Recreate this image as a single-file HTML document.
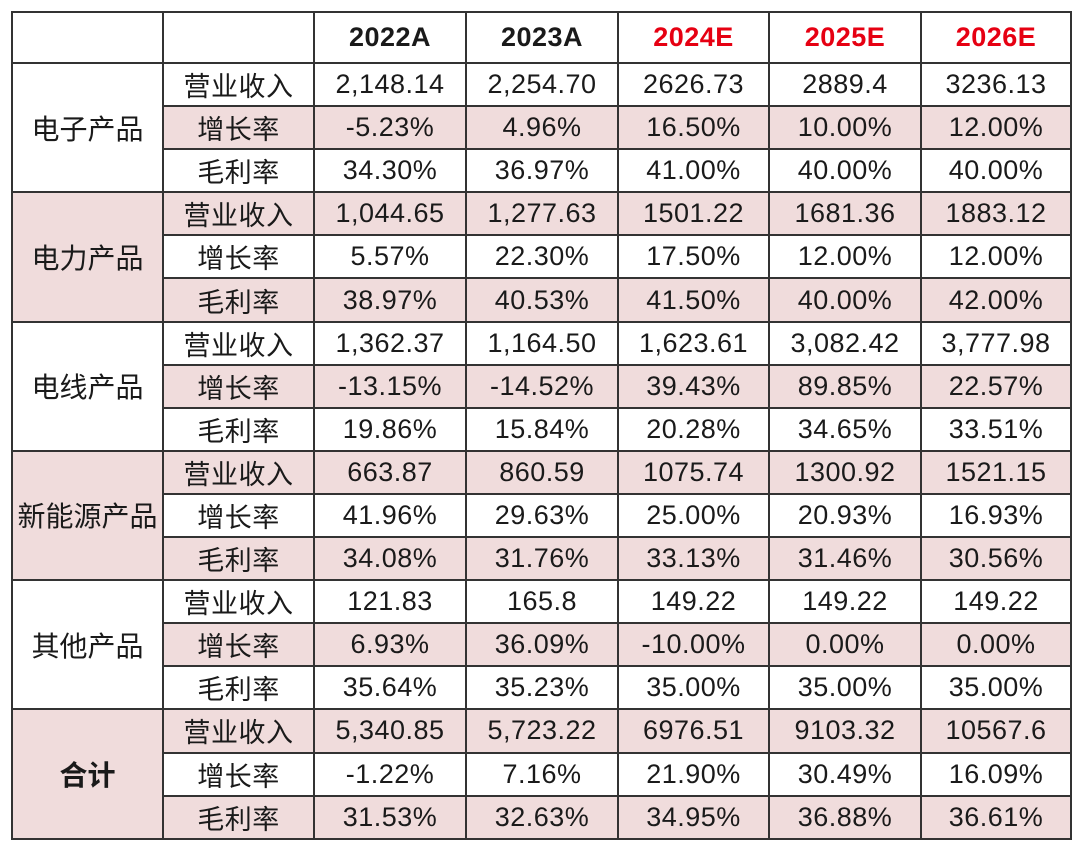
<!DOCTYPE html>
<html><head><meta charset="utf-8">
<style>
html,body{margin:0;padding:0;background:#fff;width:1080px;height:851px;overflow:hidden;}
table{position:absolute;left:11px;top:11px;border-collapse:collapse;table-layout:fixed;
 font-family:"Liberation Sans","Noto Sans CJK SC",sans-serif;color:#1a1a1a;}
td,th{border:2px solid #333;text-align:center;padding:0;font-size:27px;font-weight:normal;letter-spacing:0.5px;white-space:nowrap;overflow:hidden;}
th{height:49px;font-weight:bold;font-size:27px;}
td{height:41.1px;}
td[rowspan]{font-size:28px;letter-spacing:0;}
.p{background:#f0dcdc;}
.red{color:#e60012;}
.b{font-weight:bold;}
</style></head><body>
<table>
<colgroup><col style="width:151px"><col style="width:151px"><col style="width:152px"><col style="width:152px"><col style="width:151px"><col style="width:152px"><col style="width:150px"></colgroup>
<thead><tr>
<th></th>
<th></th>
<th>2022A</th>
<th>2023A</th>
<th class="red">2024E</th>
<th class="red">2025E</th>
<th class="red">2026E</th>
</tr></thead>
<tbody>
<tr><td rowspan="3">电子产品</td><td>营业收入</td><td>2,148.14</td><td>2,254.70</td><td>2626.73</td><td>2889.4</td><td>3236.13</td></tr>
<tr class="p"><td>增长率</td><td>-5.23%</td><td>4.96%</td><td>16.50%</td><td>10.00%</td><td>12.00%</td></tr>
<tr><td>毛利率</td><td>34.30%</td><td>36.97%</td><td>41.00%</td><td>40.00%</td><td>40.00%</td></tr>

<tr class="p"><td rowspan="3" class="p">电力产品</td><td>营业收入</td><td>1,044.65</td><td>1,277.63</td><td>1501.22</td><td>1681.36</td><td>1883.12</td></tr>
<tr><td>增长率</td><td>5.57%</td><td>22.30%</td><td>17.50%</td><td>12.00%</td><td>12.00%</td></tr>
<tr class="p"><td>毛利率</td><td>38.97%</td><td>40.53%</td><td>41.50%</td><td>40.00%</td><td>42.00%</td></tr>

<tr><td rowspan="3">电线产品</td><td>营业收入</td><td>1,362.37</td><td>1,164.50</td><td>1,623.61</td><td>3,082.42</td><td>3,777.98</td></tr>
<tr class="p"><td>增长率</td><td>-13.15%</td><td>-14.52%</td><td>39.43%</td><td>89.85%</td><td>22.57%</td></tr>
<tr><td>毛利率</td><td>19.86%</td><td>15.84%</td><td>20.28%</td><td>34.65%</td><td>33.51%</td></tr>

<tr class="p"><td rowspan="3" class="p">新能源产品</td><td>营业收入</td><td>663.87</td><td>860.59</td><td>1075.74</td><td>1300.92</td><td>1521.15</td></tr>
<tr><td>增长率</td><td>41.96%</td><td>29.63%</td><td>25.00%</td><td>20.93%</td><td>16.93%</td></tr>
<tr class="p"><td>毛利率</td><td>34.08%</td><td>31.76%</td><td>33.13%</td><td>31.46%</td><td>30.56%</td></tr>

<tr><td rowspan="3">其他产品</td><td>营业收入</td><td>121.83</td><td>165.8</td><td>149.22</td><td>149.22</td><td>149.22</td></tr>
<tr class="p"><td>增长率</td><td>6.93%</td><td>36.09%</td><td>-10.00%</td><td>0.00%</td><td>0.00%</td></tr>
<tr><td>毛利率</td><td>35.64%</td><td>35.23%</td><td>35.00%</td><td>35.00%</td><td>35.00%</td></tr>

<tr class="p"><td rowspan="3" class="p b">合计</td><td>营业收入</td><td>5,340.85</td><td>5,723.22</td><td>6976.51</td><td>9103.32</td><td>10567.6</td></tr>
<tr><td>增长率</td><td>-1.22%</td><td>7.16%</td><td>21.90%</td><td>30.49%</td><td>16.09%</td></tr>
<tr class="p"><td>毛利率</td><td>31.53%</td><td>32.63%</td><td>34.95%</td><td>36.88%</td><td>36.61%</td></tr>
</tbody></table>
</body></html>
